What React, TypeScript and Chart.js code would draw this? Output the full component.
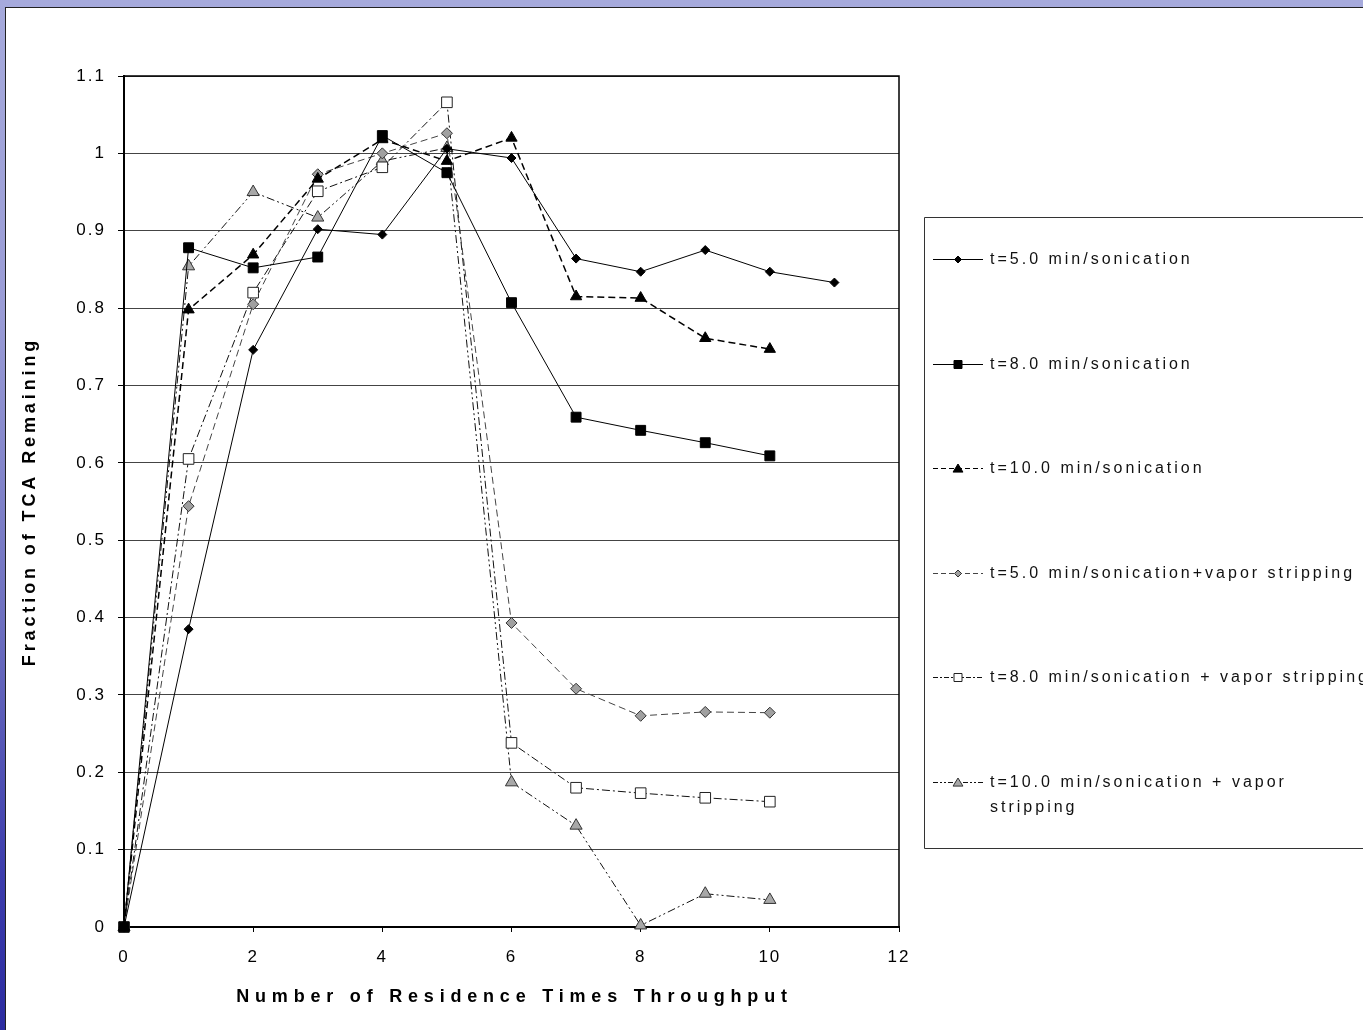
import React, { useEffect, useRef } from 'react';
import { Chart, registerables } from 'chart.js';

Chart.register(...registerables);

// ---- data ----
const residenceTimes = [0, 1, 2, 3, 4, 5, 6, 7, 8, 9, 10, 11];
const son5 = [0, 0.385, 0.746, 0.902, 0.895, 1.006, 0.994, 0.864, 0.847, 0.875, 0.847, 0.833];
const son8 = [0, 0.878, 0.852, 0.866, 1.023, 0.975, 0.807, 0.659, 0.642, 0.626, 0.609];
const son10 = [0, 0.798, 0.869, 0.967, 1.018, 0.99, 1.02, 0.815, 0.813, 0.761, 0.747];
const son5Vapor = [0, 0.544, 0.805, 0.973, 1.0, 1.026, 0.393, 0.308, 0.273, 0.278, 0.277];
const son8Vapor = [0, 0.605, 0.82, 0.951, 0.982, 1.066, 0.238, 0.18, 0.173, 0.167, 0.162];
const son10Vapor = [0, 0.854, 0.95, 0.917, 0.99, 1.007, 0.187, 0.131, 0.002, 0.043, 0.035];

const seriesLabels = [
  ['t=5.0 min/sonication'],
  ['t=8.0 min/sonication'],
  ['t=10.0 min/sonication'],
  ['t=5.0 min/sonication+vapor stripping'],
  ['t=8.0 min/sonication + vapor stripping'],
  ['t=10.0 min/sonication + vapor', 'stripping'],
];
const seriesValues = [son5, son8, son10, son5Vapor, son8Vapor, son10Vapor];

const xTitle = 'Number of Residence Times Throughput';
const yTitle = 'Fraction of TCA Remaining';

const FONT = "'Liberation Sans', Arial, Helvetica, sans-serif";

type Marker = 'diamond' | 'square' | 'triangle';
const styles: {
  marker: Marker; chartStyle: string; radius: number; fill: string; stroke: string;
  line: string; width: number; dash: number[]; legendR: number; legendDash: number[];
}[] = [
  { marker: 'diamond', chartStyle: 'rectRot', radius: 4.5, fill: '#000', stroke: '#000', line: '#000', width: 1, dash: [], legendR: 3.5, legendDash: [] },
  { marker: 'square', chartStyle: 'rect', radius: 7, fill: '#000', stroke: '#000', line: '#000', width: 1, dash: [], legendR: 4, legendDash: [] },
  { marker: 'triangle', chartStyle: 'triangle', radius: 6.5, fill: '#000', stroke: '#000', line: '#000', width: 1.5, dash: [7, 4], legendR: 4.5, legendDash: [5, 3] },
  { marker: 'diamond', chartStyle: 'rectRot', radius: 5.5, fill: '#a0a0a0', stroke: '#333', line: '#444', width: 1, dash: [7, 4], legendR: 3.5, legendDash: [5, 3] },
  { marker: 'square', chartStyle: 'rect', radius: 7.5, fill: '#fff', stroke: '#222', line: '#111', width: 1, dash: [8, 3, 2, 3], legendR: 4, legendDash: [5, 2, 2, 2] },
  { marker: 'triangle', chartStyle: 'triangle', radius: 7, fill: '#a8a8a8', stroke: '#333', line: '#111', width: 1, dash: [8, 3, 2, 3, 2, 3], legendR: 4.5, legendDash: [5, 2, 2, 2, 2, 2] },
];

function drawMarker(ctx: CanvasRenderingContext2D, m: Marker, x: number, y: number, r: number, fill: string, stroke: string) {
  ctx.beginPath();
  if (m === 'diamond') {
    ctx.moveTo(x, y - r); ctx.lineTo(x + r, y); ctx.lineTo(x, y + r); ctx.lineTo(x - r, y); ctx.closePath();
  } else if (m === 'square') {
    ctx.rect(x - r, y - r, 2 * r, 2 * r);
  } else {
    ctx.moveTo(x, y - r); ctx.lineTo(x + r * 1.1, y + r * 0.8); ctx.lineTo(x - r * 1.1, y + r * 0.8); ctx.closePath();
  }
  ctx.fillStyle = fill; ctx.fill();
  ctx.setLineDash([]);
  ctx.lineWidth = 1; ctx.strokeStyle = stroke; ctx.stroke();
}

const decorPlugin = {
  id: 'decor',
  beforeDraw(chart: any) {
    (chart.ctx as any).letterSpacing = '2px';
  },
  afterDraw(chart: any) {
    const ctx: any = chart.ctx;
    const a = chart.chartArea;
    ctx.save();
    ctx.setLineDash([]);
    // plot frame top & right
    ctx.strokeStyle = '#000';
    ctx.lineWidth = 1.5;
    ctx.beginPath();
    ctx.moveTo(a.left, a.top);
    ctx.lineTo(a.right, a.top);
    ctx.lineTo(a.right, a.bottom);
    ctx.stroke();

    // axis titles
    ctx.fillStyle = '#000';
    ctx.font = `bold 18px ${FONT}`;
    ctx.textAlign = 'center';
    ctx.textBaseline = 'middle';
    ctx.letterSpacing = '5.8px';
    ctx.fillText(xTitle, (a.left + a.right) / 2 + 3, 989);
    ctx.save();
    ctx.translate(24, (a.top + a.bottom) / 2 + 2);
    ctx.rotate(-Math.PI / 2);
    ctx.letterSpacing = '3.9px';
    ctx.fillText(yTitle, 2, 0);
    ctx.restore();

    // legend box
    ctx.letterSpacing = '0px';
    ctx.strokeStyle = '#333';
    ctx.lineWidth = 1;
    ctx.beginPath();
    ctx.moveTo(1400, 209.5);
    ctx.lineTo(918.5, 209.5);
    ctx.lineTo(918.5, 840.5);
    ctx.lineTo(1400, 840.5);
    ctx.stroke();

    const itemTop = 251;
    const itemStep = 104.6;
    seriesLabels.forEach((lines, i) => {
      const s = styles[i];
      const y = Math.round(itemTop + i * itemStep) + 0.5;
      ctx.strokeStyle = s.line;
      ctx.lineWidth = 1;
      ctx.setLineDash(s.legendDash);
      ctx.beginPath();
      ctx.moveTo(927, y);
      ctx.lineTo(977, y);
      ctx.stroke();
      drawMarker(ctx, s.marker, 952, y, s.legendR, s.fill, s.stroke);
      ctx.fillStyle = '#111';
      ctx.font = `16px ${FONT}`;
      ctx.textAlign = 'left';
      ctx.textBaseline = 'middle';
      ctx.letterSpacing = '3px';
      lines.forEach((t, j) => {
        ctx.fillText(t, 984, y + j * 25);
      });
      ctx.letterSpacing = '0px';
    });
    ctx.restore();
    ctx.letterSpacing = '0px';
  },
};

export default function App() {
  const ref = useRef<HTMLCanvasElement | null>(null);

  useEffect(() => {
    if (!ref.current) return;
    const datasets = seriesValues.map((vals, i) => {
      const s = styles[i];
      return {
        label: seriesLabels[i].join(' '),
        data: vals.map((v, k) => ({ x: residenceTimes[k], y: v })),
        borderColor: s.line,
        borderWidth: s.width,
        borderDash: s.dash,
        backgroundColor: s.fill,
        pointStyle: s.chartStyle,
        pointRadius: s.radius,
        pointBackgroundColor: s.fill,
        pointBorderColor: s.stroke,
        pointBorderWidth: 1,
        tension: 0,
        fill: false,
        clip: false as any,
      };
    });

    const chart = new Chart(ref.current, {
      type: 'line',
      data: { datasets: datasets as any },
      plugins: [decorPlugin as any],
      options: {
        animation: false,
        responsive: false,
        devicePixelRatio: 1,
        events: [],
        layout: { padding: { top: 68, right: 464, bottom: 0, left: 0 } },
        plugins: { legend: { display: false }, tooltip: { enabled: false }, title: { display: false } },
        scales: {
          x: {
            type: 'linear',
            min: 0,
            max: 12,
            afterFit: (scale: any) => { scale.height = 103; },
            ticks: { stepSize: 2, padding: 15, color: '#000', font: { family: FONT, size: 17 } },
            grid: { drawOnChartArea: false, drawTicks: true, tickLength: 5, tickColor: '#000', tickWidth: 1 },
            border: { display: true, color: '#000', width: 2 },
          },
          y: {
            type: 'linear',
            min: 0,
            max: 1.1,
            afterFit: (scale: any) => { scale.width = 118; },
            ticks: {
              stepSize: 0.1,
              padding: 12,
              color: '#000',
              font: { family: FONT, size: 17 },
              callback: (v: any) => String(Math.round(Number(v) * 10) / 10),
            },
            grid: { color: '#444', lineWidth: 1, drawTicks: true, tickLength: 6, tickColor: '#000', tickWidth: 1 },
            border: { display: true, color: '#000', width: 2 },
          },
        },
      },
    });
    return () => chart.destroy();
  }, []);

  return (
    <div
      style={{
        position: 'fixed', left: 0, top: 0, width: 1363, height: 1030, overflow: 'hidden',
        background: 'linear-gradient(to bottom, #a6aadc 0%, #9a9cd6 30%, #6e70c0 60%, #3c3cac 85%, #2c2ca0 100%)',
      }}
    >
      <div
        style={{
          position: 'absolute', left: 5, top: 7, width: 1358, height: 1023, background: '#fff',
          borderLeft: '1px solid #222', borderTop: '1px solid #222', boxSizing: 'border-box',
        }}
      >
        <canvas ref={ref} width={1357} height={1022} style={{ display: 'block', width: 1357, height: 1022 }} />
      </div>
    </div>
  );
}
